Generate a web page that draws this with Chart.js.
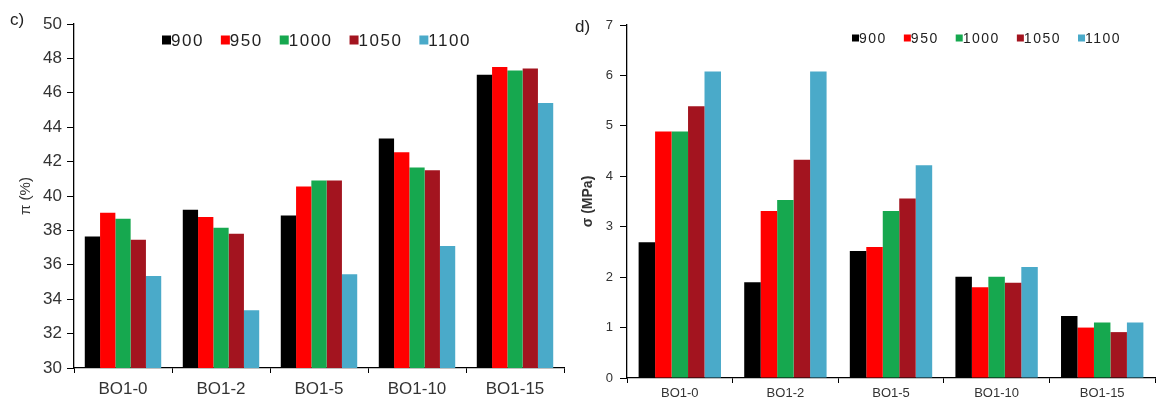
<!DOCTYPE html>
<html>
<head>
<meta charset="utf-8">
<script src="https://cdn.jsdelivr.net/npm/chart.js@4.4.1/dist/chart.umd.min.js"></script>
<style>
  html, body { margin: 0; padding: 0; background: #ffffff; width: 1157px; height: 401px; overflow: hidden; }
  .panel { position: absolute; top: 0; height: 401px; }
  #wrapC { left: 0; width: 570px; }
  #wrapD { left: 570px; width: 587px; }
</style>
</head>
<body>
<div class="panel" id="wrapC"><canvas id="chartC"></canvas></div>
<div class="panel" id="wrapD"><canvas id="chartD"></canvas></div>
<script>
// Samples and sintering temperatures (°C)
const categories = ['BO1-0', 'BO1-2', 'BO1-5', 'BO1-10', 'BO1-15'];
const temperatures = ['900', '950', '1000', '1050', '1100'];
const seriesColors = ['#000000', '#ff0000', '#16a84f', '#a3141f', '#4aaac9'];

// Porosity π (%)
const porosity900  = [37.65, 39.20, 38.87, 43.35, 47.05];
const porosity950  = [39.03, 38.78, 40.55, 42.55, 47.50];
const porosity1000 = [38.68, 38.16, 40.90, 41.65, 47.30];
const porosity1050 = [37.46, 37.80, 40.90, 41.50, 47.42];
const porosity1100 = [35.35, 33.36, 35.45, 37.10, 45.40];
const porosityTicks = [30, 32, 34, 36, 38, 40, 42, 44, 46, 48, 50];

// Strength σ (MPa)
const strength900  = [2.69, 1.90, 2.52, 2.01, 1.23];
const strength950  = [4.89, 3.31, 2.60, 1.80, 1.00];
const strength1000 = [4.89, 3.53, 3.31, 2.01, 1.10];
const strength1050 = [5.39, 4.33, 3.56, 1.89, 0.91];
const strength1100 = [6.08, 6.08, 4.22, 2.20, 1.10];
const strengthTicks = [0, 1, 2, 3, 4, 5, 6, 7];

const porositySeries = [porosity900, porosity950, porosity1000, porosity1050, porosity1100];
const strengthSeries = [strength900, strength950, strength1000, strength1050, strength1100];

function makeDatasets(series) {
  return series.map((values, i) => ({
    label: temperatures[i],
    data: values,
    backgroundColor: seriesColors[i],
    borderWidth: 0,
    barPercentage: 1.0,
    categoryPercentage: 0.78
  }));
}

// Panel tag and a compact square-swatch legend drawn in one row
const panelDecor = {
  id: 'panelDecor',
  afterDraw(chart, args, o) {
    const ctx = chart.ctx;
    ctx.save();
    ctx.textAlign = 'left';
    ctx.textBaseline = 'middle';
    ctx.fillStyle = '#222222';
    ctx.font = o.tagFont;
    ctx.fillText(o.tag, o.tagX, o.tagY);
    ctx.font = o.legendFont;
    ctx.letterSpacing = o.spacing;
    let x = o.legendX;
    chart.data.datasets.forEach(ds => {
      ctx.fillStyle = ds.backgroundColor;
      ctx.fillRect(x, o.legendY - o.box / 2, o.box, o.box);
      x += o.box;
      ctx.fillStyle = '#222222';
      ctx.fillText(ds.label, x, o.legendY + 1);
      x += ctx.measureText(ds.label).width + o.gap;
    });
    ctx.restore();
  }
};

function axisOptions(cfg) {
  return {
    x: {
      type: 'category',
      offset: true,
      grid: { display: true, drawOnChartArea: false, drawTicks: true, offset: true,
              tickLength: 5, color: '#000000', lineWidth: 1 },
      border: { display: true, color: '#000000', width: 1.3 },
      ticks: { color: '#333333', font: { family: 'Liberation Sans, Arial, sans-serif', size: cfg.xFont },
               padding: cfg.xPad, maxRotation: 0, autoSkip: false },
      afterFit: s => { s.height = cfg.xHeight; }
    },
    y: {
      min: cfg.ticks[0],
      max: cfg.ticks[cfg.ticks.length - 1],
      grid: { display: true, drawOnChartArea: false, drawTicks: true,
              tickLength: 7, color: '#000000', lineWidth: 1 },
      border: { display: true, color: '#000000', width: 1.3 },
      ticks: { stepSize: cfg.ticks[1] - cfg.ticks[0], color: '#333333',
               font: { family: 'Liberation Sans, Arial, sans-serif', size: cfg.yFont },
               padding: cfg.yPad },
      title: { display: true, text: cfg.title, color: '#333333',
               font: { family: 'Liberation Sans, Arial, sans-serif', size: cfg.titleSize, weight: cfg.titleWeight },
               padding: { top: cfg.titlePad, bottom: 0 } },
      afterFit: s => { s.width = cfg.yWidth; }
    }
  };
}

new Chart(document.getElementById('chartC'), {
  type: 'bar',
  data: { labels: categories, datasets: makeDatasets(porositySeries) },
  plugins: [panelDecor],
  options: {
    responsive: true,
    maintainAspectRatio: false,
    animation: false,
    layout: { padding: { top: 24, right: 6, left: 0, bottom: 0 } },
    plugins: {
      legend: { display: false },
      tooltip: { enabled: false },
      panelDecor: {
        tag: 'c)', tagX: 10, tagY: 20, tagFont: '17px "Liberation Sans", Arial, sans-serif',
        legendX: 162, legendY: 40, box: 9, gap: 17, spacing: '1.5px',
        legendFont: '17px "Liberation Sans", Arial, sans-serif'
      }
    },
    scales: axisOptions({
      ticks: porosityTicks, title: 'π (%)', titleSize: 15, titleWeight: 'normal', titlePad: 17,
      xFont: 17, xPad: 6, xHeight: 33, yFont: 17, yPad: 5, yWidth: 74
    })
  }
});

new Chart(document.getElementById('chartD'), {
  type: 'bar',
  data: { labels: categories, datasets: makeDatasets(strengthSeries) },
  plugins: [panelDecor],
  options: {
    responsive: true,
    maintainAspectRatio: false,
    animation: false,
    layout: { padding: { top: 25, right: 2, left: 0, bottom: 0 } },
    plugins: {
      legend: { display: false },
      tooltip: { enabled: false },
      panelDecor: {
        tag: 'd)', tagX: 5, tagY: 27, tagFont: '17px "Liberation Sans", Arial, sans-serif',
        legendX: 282, legendY: 38, box: 7, gap: 17, spacing: '1.5px',
        legendFont: '14px "Liberation Sans", Arial, sans-serif'
      }
    },
    scales: axisOptions({
      ticks: strengthTicks, title: 'σ (MPa)', titleSize: 14, titleWeight: 'bold', titlePad: 10,
      xFont: 13, xPad: 3, xHeight: 23, yFont: 13, yPad: 7, yWidth: 57
    })
  }
});
</script>
</body>
</html>
